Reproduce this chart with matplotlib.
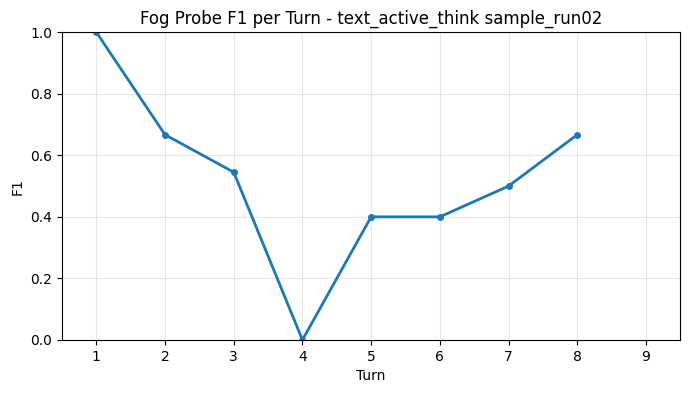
import numpy as np
import matplotlib
matplotlib.use("Agg")
import matplotlib.pyplot as plt

# F1 per turn
turns = [1, 2, 3, 4, 5, 6, 7, 8]
f1 = [1.0, 0.667, 0.545, 0.0, 0.4, 0.4, 0.5, 0.667]
xticks = [1, 2, 3, 4, 5, 6, 7, 8, 9]

fig, ax = plt.subplots(figsize=(6.91, 3.93), dpi=100)
fig.subplots_adjust(left=0.0897, right=0.9845, top=0.918, bottom=0.135)

ax.plot(turns, f1, marker="o", markersize=4, linewidth=2, color="#1f77b4")
ax.set_xlim(0.5, 9.5)
ax.set_ylim(0, 1)
ax.set_xticks(xticks)
ax.grid(True, alpha=0.3)
ax.set_xlabel("Turn")
ax.set_ylabel("F1")
ax.set_title("Fog Probe F1 per Turn - text_active_think sample_run02")

fig.savefig("out.png", dpi=100)
